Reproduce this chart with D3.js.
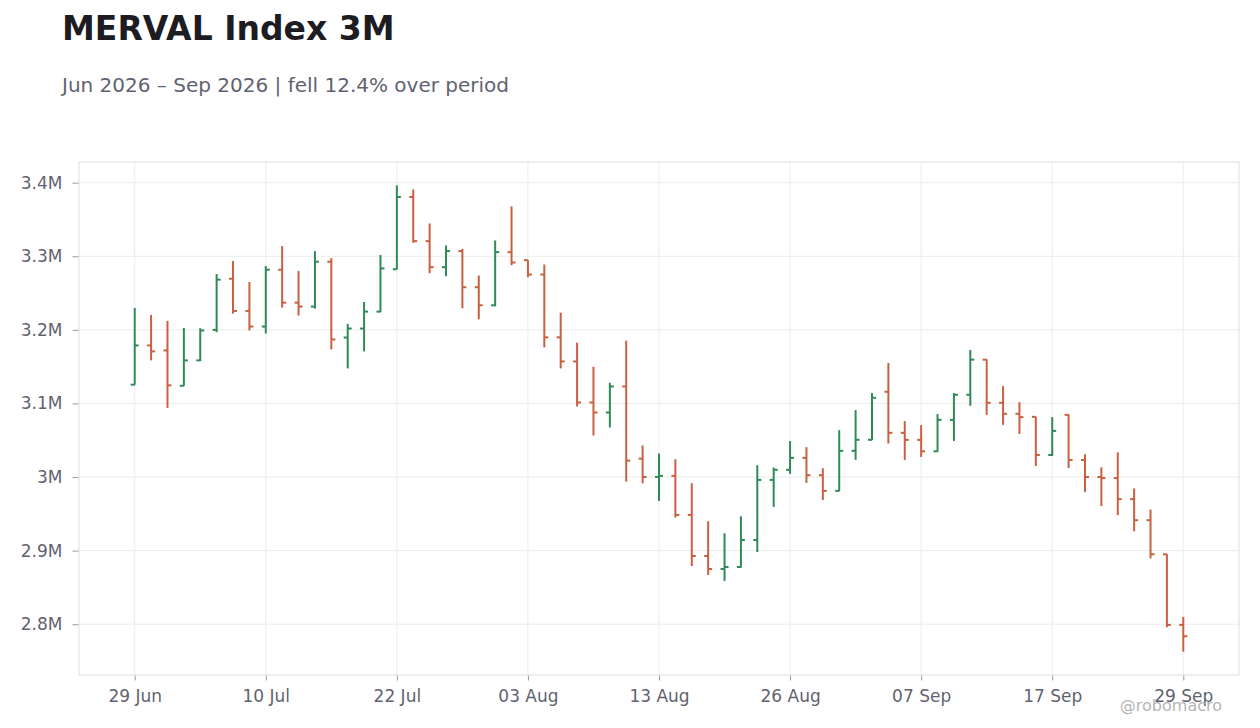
<!DOCTYPE html>
<html>
<head>
<meta charset="utf-8">
<script src="https://cdn.jsdelivr.net/npm/d3@7"></script>
<style>
  body { margin: 0; background: #fff; font-family: "DejaVu Sans", sans-serif; }
  .axis text { fill: #5f6370; font-size: 17px; font-family: "DejaVu Sans", sans-serif; }
  .axis path { display: none; }
  .axis line { stroke: #999; }
  .grid line { stroke: #ececec; }
</style>
</head>
<body>
<div id="vis"></div>
<script>
// trading days Jun 29 - Sep 29 2026 (weekends and AR holidays skipped)
const holidays = ["2026-07-09", "2026-08-17"];
const fmtKey = d3.timeFormat("%Y-%m-%d");
const dates = d3.timeDay.range(new Date(2026, 5, 29), new Date(2026, 8, 30))
    .filter(d => d.getDay() != 0 && d.getDay() != 6 && !holidays.includes(fmtKey(d)));

// prices in millions
const opens = [3.1255, 3.1788, 3.1720, 3.1240, 3.1585, 3.2000, 3.2695, 3.2257, 3.2045, 3.2817,
    3.2370, 3.2316, 3.2926, 3.1896, 3.2018, 3.2248, 3.2824, 3.3805, 3.3206, 3.2852,
    3.3070, 3.2579, 3.2334, 3.3056, 3.2947, 3.2752, 3.1898, 3.1571, 3.1013, 3.0877,
    3.1231, 3.0250, 3.0002, 3.0016, 2.9485, 2.8927, 2.8751, 2.8778, 2.9145, 2.9961,
    3.0098, 3.0261, 3.0025, 2.9812, 3.0356, 3.0506, 3.1159, 3.0601, 3.0505, 3.0350,
    3.0777, 3.1118, 3.1595, 3.1009, 3.0859, 3.0818, 3.0300, 3.0845, 3.0232, 3.0000,
    2.9986, 2.9700, 2.9414, 2.8950, 2.7991];
const highs = [3.2298, 3.2203, 3.2122, 3.2027, 3.2023, 3.2758, 3.2935, 3.2650, 3.2867, 3.3138,
    3.2799, 3.3070, 3.2975, 3.2081, 3.2379, 3.3018, 3.3964, 3.3909, 3.3446, 3.3147,
    3.3101, 3.2738, 3.3215, 3.3678, 3.2951, 3.2888, 3.2234, 3.1826, 3.1499, 3.1281,
    3.1853, 3.0430, 3.0320, 3.0243, 2.9916, 2.9399, 2.9236, 2.9467, 3.0161, 3.0129,
    3.0488, 3.0406, 3.0120, 3.0637, 3.0909, 3.1141, 3.1550, 3.0760, 3.0705, 3.0855,
    3.1141, 3.1727, 3.1600, 3.1236, 3.1018, 3.0818, 3.0814, 3.0850, 3.0309, 3.0132,
    3.0336, 2.9845, 2.9559, 2.8955, 2.8100];
const lows = [3.1255, 3.1585, 3.0939, 3.1237, 3.1576, 3.1968, 3.2221, 3.1991, 3.1950, 3.2302,
    3.2194, 3.2289, 3.1734, 3.1476, 3.1707, 3.2239, 3.2820, 3.3183, 3.2770, 3.2729,
    3.2293, 3.2143, 3.2320, 3.2879, 3.2715, 3.1762, 3.1476, 3.0959, 3.0564, 3.0673,
    2.9937, 2.9915, 2.9676, 2.9449, 2.8791, 2.8669, 2.8587, 2.8769, 2.8982, 2.9594,
    3.0043, 2.9921, 2.9689, 2.9807, 3.0234, 3.0501, 3.0456, 3.0233, 3.0273, 3.0341,
    3.0491, 3.0968, 3.0845, 3.0709, 3.0586, 3.0150, 3.0286, 3.0123, 2.9795, 2.9605,
    2.9482, 2.9264, 2.8895, 2.7959, 2.7627];
const closes = [3.1788, 3.1707, 3.1246, 3.1585, 3.1991, 3.2682, 3.2257, 3.2045, 3.2817, 3.2370,
    3.2316, 3.2926, 3.1869, 3.2018, 3.2248, 3.2835, 3.3805, 3.3206, 3.2852, 3.3070,
    3.2579, 3.2334, 3.3056, 3.2915, 3.2752, 3.1898, 3.1571, 3.1013, 3.0877, 3.1231,
    3.0223, 3.0000, 3.0016, 2.9485, 2.8927, 2.8751, 2.8778, 2.9145, 2.9961, 3.0098,
    3.0261, 3.0025, 2.9812, 3.0356, 3.0506, 3.1077, 3.0601, 3.0505, 3.0350, 3.0777,
    3.1118, 3.1595, 3.1009, 3.0859, 3.0814, 3.0300, 3.0627, 3.0232, 3.0000, 2.9986,
    2.9700, 2.9414, 2.8950, 2.7991, 2.7836];
const yTicks = [2.8e6, 2.9e6, 3.0e6, 3.1e6, 3.2e6, 3.3e6, 3.4e6];

const width = 1260, height = 728;
const margins = {left: 79, right: 21, top: 162, bottom: 53};
const up_color = "#2e8b57", down_color = "#c9603f";

const data = dates.map((d, i) => ({
    date: d, open: opens[i] * 1e6, high: highs[i] * 1e6, low: lows[i] * 1e6, close: closes[i] * 1e6
}));

const svg = d3.select("#vis")
    .append("svg")
        .attr("width", width)
        .attr("height", height);

svg.append("text")
    .attr("x", 62).attr("y", 40)
    .attr("font-size", "33px").attr("font-weight", "bold")
    .attr("fill", "#1c1c22")
    .text("MERVAL Index 3M");

svg.append("text")
    .attr("x", 62).attr("y", 92)
    .attr("font-size", "20px")
    .attr("fill", "#5f6370")
    .text("Jun 2026 \u2013 Sep 2026 | fell 12.4% over period");

const x_scale = d3.scalePoint()
    .domain(data.map(d => d.date))
    .range([margins.left, width - margins.right])
    .padding(3.4);

const lo = d3.min(lows) * 1e6, hi = d3.max(highs) * 1e6, pad = (hi - lo) * 0.05;
const y_scale = d3.scaleLinear()
    .domain([lo - pad, hi + pad])
    .range([height - margins.bottom, margins.top]);

const tickDates = data.map(d => d.date).filter((d, i) => i % 8 == 0);

// gridlines
svg.append("g")
    .attr("class", "grid")
    .selectAll("line.h")
    .data(yTicks)
    .join("line")
        .attr("x1", margins.left).attr("x2", width - margins.right)
        .attr("y1", d => y_scale(d)).attr("y2", d => y_scale(d));
svg.append("g")
    .attr("class", "grid")
    .selectAll("line.v")
    .data(tickDates)
    .join("line")
        .attr("x1", d => x_scale(d)).attr("x2", d => x_scale(d))
        .attr("y1", margins.top).attr("y2", height - margins.bottom);

svg.append("rect")
    .attr("x", margins.left).attr("y", margins.top)
    .attr("width", width - margins.left - margins.right)
    .attr("height", height - margins.top - margins.bottom)
    .attr("fill", "none").attr("stroke", "#dddddd");

svg.append("g")
    .attr("class", "axis")
    .attr("transform", "translate(" + (margins.left - 0.5) + ",0)")
    .call(d3.axisLeft(y_scale).tickValues(yTicks).tickSize(6).tickPadding(10)
        .tickFormat(d3.format(".2~s")));

svg.append("g")
    .attr("class", "axis")
    .attr("transform", "translate(0," + (height - margins.bottom + 0.5) + ")")
    .call(d3.axisBottom(x_scale).tickValues(tickDates).tickSize(5).tickPadding(9)
        .tickFormat(d3.timeFormat("%d %b")));

// OHLC bars
const bars = svg.append("g")
    .selectAll("g")
    .data(data)
    .join("g")
        .attr("stroke", d => d.close >= d.open ? up_color : down_color)
        .attr("stroke-width", 2);

bars.append("line")
    .attr("x1", d => x_scale(d.date)).attr("x2", d => x_scale(d.date))
    .attr("y1", d => y_scale(d.high)).attr("y2", d => y_scale(d.low));
bars.append("line")
    .attr("x1", d => x_scale(d.date) - 4).attr("x2", d => x_scale(d.date))
    .attr("y1", d => y_scale(d.open)).attr("y2", d => y_scale(d.open));
bars.append("line")
    .attr("x1", d => x_scale(d.date)).attr("x2", d => x_scale(d.date) + 4)
    .attr("y1", d => y_scale(d.close)).attr("y2", d => y_scale(d.close));

svg.append("text")
    .attr("x", 1222).attr("y", 711)
    .attr("text-anchor", "end")
    .attr("font-size", "16px")
    .attr("fill", "#b5b5b5")
    .text("@robomacro");
</script>
</body>
</html>
